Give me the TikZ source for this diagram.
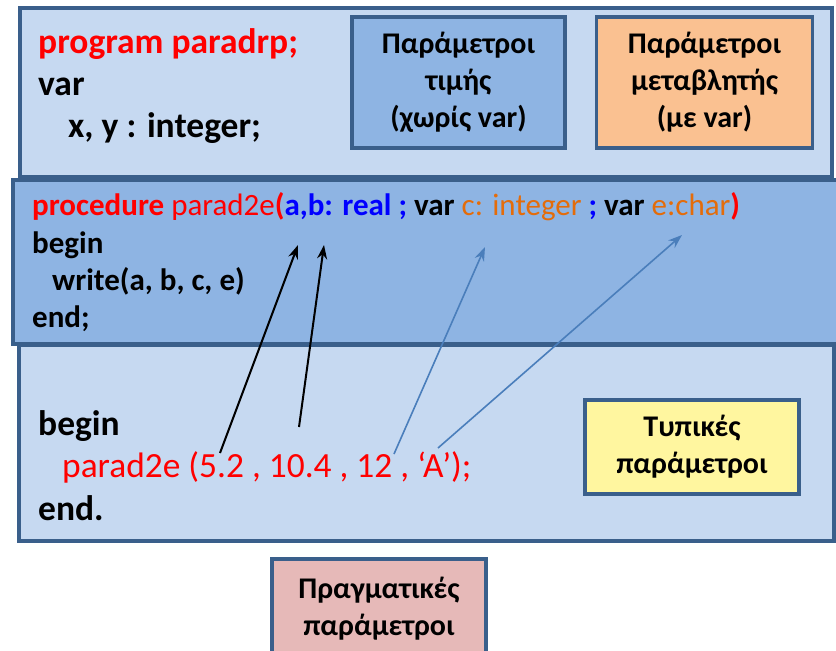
\documentclass[tikz,border=0pt]{standalone}
\usepackage{fontspec}
\setmainfont{Carlito}
\usetikzlibrary{arrows.meta}
\definecolor{bord}{HTML}{3A5F8B}
\definecolor{lightbg}{HTML}{C6D9F1}
\definecolor{midbg}{HTML}{8EB4E3}
\definecolor{orangebg}{HTML}{FAC191}
\definecolor{yellowbg}{HTML}{FFF69F}
\definecolor{pinkbg}{HTML}{E6B9B8}
\definecolor{codered}{HTML}{FF0000}
\definecolor{codeblue}{HTML}{0000FF}
\definecolor{codeorange}{HTML}{E46C0A}
\definecolor{arrowblue}{HTML}{4A7EBB}
\tikzset{
  panel/.style={draw=bord, line width=3.5pt},
  labelbox/.style={draw=bord, line width=3.5pt, align=center, inner sep=0pt,
    font=\bfseries\fontsize{30}{37}\selectfont},
  topcode/.style={anchor=base west, inner sep=0pt, font=\bfseries\fontsize{35.5}{40}\selectfont},
  proccode/.style={anchor=base west, inner sep=0pt, font=\bfseries\fontsize{31}{36}\selectfont},
  maincode/.style={anchor=base west, inner sep=0pt, font=\fontsize{35.4}{40}\selectfont},
  blackarrow/.style={draw=black, line width=2pt, -{Stealth[length=14pt,width=10pt]}},
  bluearrow/.style={draw=arrowblue, line width=1.6pt, -{Stealth[length=14pt,width=10pt]}},
}
\begin{document}
\begin{tikzpicture}[x=1pt,y=-1pt]
\useasboundingbox (0,0) rectangle (836,651);
% panels
\draw[panel, fill=lightbg] (20,8) rectangle (832,177);
\draw[panel, fill=lightbg] (19,345) rectangle (834,541);
\draw[panel, fill=midbg] (13,180) rectangle (840,344);
% label boxes
\node[labelbox, fill=midbg, minimum width=213pt, minimum height=131pt] (tim) at (458.5,82.5)
  {Παράμετροι\\τιμής\\(χωρίς var)};
\node[labelbox, fill=orangebg, minimum width=216pt, minimum height=131pt] (metab) at (704.5,82.5)
  {Παράμετροι\\μεταβλητής\\(με var)};
\node[labelbox, fill=yellowbg, minimum width=214pt, minimum height=94pt] (typ) at (692,447)
  {Τυπικές\\παράμετροι};
\node[labelbox, fill=pinkbg, minimum width=214pt, minimum height=100pt] (prag) at (379,609)
  {Πραγματικές\\παράμετροι};
% top code
\node[topcode, text=codered] (l1) at (38,53) {program paradrp;};
\node[topcode] (l2) at (38,95) {var};
\node[topcode] (l3) at (68,137) {x, y : integer;};
% procedure code
\node[proccode] (p1) at (32,215) {\textcolor{codered}{procedure \mdseries parad2e}\textcolor{codered}{(}\textcolor{codeblue}{a,b: real ;} var \textcolor{codeorange}{\mdseries c: integer }\textcolor{codeblue}{;} var \textcolor{codeorange}{\mdseries e:char}\textcolor{codered}{)}};
\node[proccode] (p2) at (32,253) {begin};
\node[proccode] (p3) at (52,290) {write(a, b, c, e)};
\node[proccode] (p4) at (32,327) {end;};
% main code
\node[topcode] (m1) at (38,435) {begin};
\node[maincode, text=codered] (m2) at (62,477) {parad2e (5.2 , 10.4 , 12 , ‘A’);};
\node[topcode] (m3) at (38,520) {end.};
% arrow end points
\coordinate (s1) at (220,453);
\coordinate (t1) at (298,245);
\coordinate (s2) at (299,427);
\coordinate (t2) at (324,245);
\coordinate (s3) at (394,454);
\coordinate (t3) at (485,247);
\coordinate (s4) at (438,448);
\coordinate (t4) at (682,235);
\draw[blackarrow] (s1) -- (t1);
\draw[blackarrow] (s2) -- (t2);
\draw[bluearrow] (s3) -- (t3);
\draw[bluearrow] (s4) -- (t4);
\end{tikzpicture}
\end{document}
